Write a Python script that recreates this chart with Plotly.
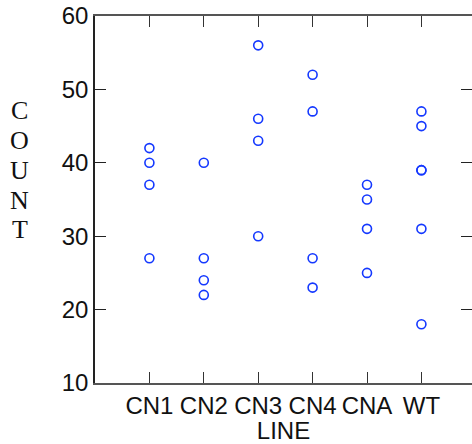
import plotly.graph_objects as go

categories = ["CN1", "CN2", "CN3", "CN4", "CNA", "WT"]
values = {
    "CN1": [42, 40, 37, 27],
    "CN2": [40, 27, 24, 22],
    "CN3": [56, 46, 43, 30],
    "CN4": [52, 47, 27, 23],
    "CNA": [37, 35, 31, 25],
    "WT": [47, 45, 39, 39, 31, 18],
}
y_ticks = [10, 20, 30, 40, 50, 60]
y_title = "COUNT"
x_title = "LINE"

xs, ys = [], []
for i, c in enumerate(categories):
    for v in values[c]:
        xs.append(i + 1)
        ys.append(v)

fig = go.Figure()
fig.add_trace(go.Scatter(
    x=xs, y=ys, mode="markers",
    marker=dict(symbol="circle-open", size=9, color="#1438ff", line=dict(width=1.6, color="#1438ff")),
    showlegend=False, cliponaxis=False,
))
# invisible companion trace so the right-hand tick axis is rendered
fig.add_trace(go.Scatter(
    x=xs, y=ys, yaxis="y2", mode="markers", marker=dict(opacity=0),
    showlegend=False, hoverinfo="skip",
))

tick_font = dict(family="Liberation Sans, Arial", size=24, color="#111")

fig.update_layout(
    width=472, height=444,
    margin=dict(l=95, r=0, t=16, b=61),
    paper_bgcolor="white", plot_bgcolor="white",
    xaxis=dict(
        range=[0, 6.93], tickvals=list(range(1, len(categories) + 1)), ticktext=categories,
        ticks="inside", ticklen=11, tickwidth=1.2, tickcolor="#333",
        showline=True, linecolor="#555", linewidth=1.5, mirror="ticks",
        showgrid=False, zeroline=False, tickfont=tick_font,
        title=dict(text=x_title, font=tick_font, standoff=2),
    ),
    yaxis=dict(
        range=[10, 60], tickvals=y_ticks,
        ticks="inside", ticklen=11, tickwidth=1.2, tickcolor="#222",
        showline=True, linecolor="#222", linewidth=1.5, mirror=False,
        showgrid=False, zeroline=False, tickfont=tick_font,
    ),
    yaxis2=dict(
        overlaying="y", side="right", range=[10, 60], tickvals=y_ticks,
        ticks="inside", ticklen=11, tickwidth=1.2, tickcolor="#222",
        showline=False, showticklabels=False, showgrid=False, zeroline=False,
    ),
)

for k, ch in enumerate(y_title):
    fig.add_annotation(
        text=ch, xref="paper", yref="paper", x=-0.20, y=1 - (110 + 30 * k - 16) / 367.0,
        xanchor="center", yanchor="middle", showarrow=False,
        font=dict(family="Liberation Serif, Times New Roman", size=26, color="#111"),
    )

fig.write_html("out.html")
